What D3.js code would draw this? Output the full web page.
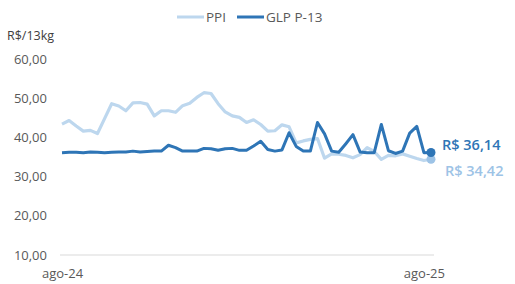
<!DOCTYPE html>
<html>
<head>
<meta charset="utf-8">
<script src="https://cdn.jsdelivr.net/npm/d3@7"></script>
<style>
  body { margin: 0; background: #fff; }
  text { font-family: "Open Sans", "Noto Sans", sans-serif; }
</style>
</head>
<body>
<div id="vis"></div>
<script>
// weekly series, ago-24 .. ago-25
const ppi = [43.4, 44.3, 42.9, 41.6, 41.8, 41.0, 44.8, 48.6, 48.0, 46.8,
             48.8, 48.9, 48.5, 45.5, 46.8, 46.8, 46.4, 48.1, 48.7, 50.2,
             51.4, 51.2, 48.6, 46.5, 45.5, 45.1, 43.8, 44.5, 43.3, 41.6,
             41.7, 43.2, 42.7, 38.6, 39.1, 39.5, 39.7, 34.7, 35.8, 35.7,
             35.4, 34.8, 35.6, 37.4, 36.4, 34.4, 35.4, 35.3, 35.8, 35.2,
             34.6, 34.1, 34.42];
const glp = [36.1, 36.2, 36.2, 36.1, 36.3, 36.2, 36.1, 36.2, 36.3, 36.3,
             36.5, 36.3, 36.4, 36.5, 36.5, 38.0, 37.4, 36.5, 36.5, 36.5,
             37.2, 37.1, 36.7, 37.1, 37.2, 36.7, 36.7, 37.8, 39.0, 36.9,
             36.5, 36.8, 41.2, 37.7, 36.5, 36.5, 43.8, 40.9, 36.5, 36.2,
             38.4, 40.7, 36.3, 36.1, 36.1, 43.3, 36.6, 35.9, 36.5, 41.1,
             42.8, 36.1, 36.14];
const seriesNames = ["PPI", "GLP P-13"];
const yTicks = [10, 20, 30, 40, 50, 60];
const xTickIdx = [0, 51];
const xTickLabels = ["ago-24", "ago-25"];

const width = 515, height = 284;
const colLight = "#BDD7EE", colDark = "#2E75B6";
const fmt = v => d3.format(".2f")(v).replace(".", ",");

const svg = d3.create("svg")
    .attr("width", width)
    .attr("height", height);

const xScale = d3.scaleLinear()
    .domain([0, ppi.length - 1])
    .range([62, 431]);

const yScale = d3.scaleLinear()
    .domain([10, 60])
    .range([255, 59]);

// baseline
svg.append("line")
    .attr("x1", 60).attr("x2", 434)
    .attr("y1", yScale(10)).attr("y2", yScale(10))
    .attr("stroke", "#D9D9D9").attr("stroke-width", 1);

// y axis labels
const yAxis = svg.append("g")
    .attr("transform", "translate(47,0)")
    .call(d3.axisLeft(yScale).tickValues(yTicks).tickSize(0).tickPadding(0).tickFormat(fmt));
yAxis.select(".domain").remove();
yAxis.selectAll("text")
    .attr("font-family", "Open Sans, sans-serif")
    .attr("font-size", 13)
    .attr("fill", "#595959");

// x axis labels
const xAxis = svg.append("g")
    .attr("transform", `translate(0,${yScale(10)})`)
    .call(d3.axisBottom(xScale).tickValues(xTickIdx).tickSize(0).tickPadding(14)
        .tickFormat((d, i) => xTickLabels[i]));
xAxis.select(".domain").remove();
xAxis.selectAll("text")
    .attr("font-family", "Open Sans, sans-serif")
    .attr("font-size", 13)
    .attr("fill", "#595959");

svg.append("text")
    .attr("x", 7).attr("y", 40)
    .attr("font-size", 12.5)
    .attr("fill", "#404040")
    .text("R$/13kg");

const line = d3.line()
    .x((d, i) => xScale(i))
    .y(d => yScale(d));

svg.append("path")
    .datum(ppi)
    .attr("fill", "none")
    .attr("stroke", colLight)
    .attr("stroke-width", 3.2)
    .attr("stroke-linejoin", "round")
    .attr("d", line);

svg.append("path")
    .datum(glp)
    .attr("fill", "none")
    .attr("stroke", colDark)
    .attr("stroke-width", 3)
    .attr("stroke-linejoin", "round")
    .attr("d", line);

// end points + labels
const last = ppi.length - 1;
svg.append("circle")
    .attr("cx", xScale(last)).attr("cy", yScale(ppi[last]))
    .attr("r", 4.5).attr("fill", "#9DC3E6");
svg.append("circle")
    .attr("cx", xScale(last)).attr("cy", yScale(glp[last]))
    .attr("r", 4.5).attr("fill", colDark);

svg.append("text")
    .attr("x", 442).attr("y", yScale(glp[last]) - 3)
    .attr("font-size", 14.5).attr("font-weight", 600)
    .attr("fill", colDark)
    .text("R$ " + fmt(glp[last]));
svg.append("text")
    .attr("x", 445).attr("y", yScale(ppi[last]) + 17)
    .attr("font-size", 14.5).attr("font-weight", 600)
    .attr("fill", "#9DC3E6")
    .text("R$ " + fmt(ppi[last]));

// legend
const legend = [
    {name: seriesNames[0], color: colLight, x: 177},
    {name: seriesNames[1], color: colDark, x: 237}
];
legend.forEach(l => {
    svg.append("line")
        .attr("x1", l.x).attr("x2", l.x + 27)
        .attr("y1", 17).attr("y2", 17)
        .attr("stroke", l.color).attr("stroke-width", 3);
    svg.append("text")
        .attr("x", l.x + 29).attr("y", 22)
        .attr("font-size", 13.5)
        .attr("fill", "#595959")
        .text(l.name);
});

document.getElementById("vis").appendChild(svg.node());
</script>
</body>
</html>
